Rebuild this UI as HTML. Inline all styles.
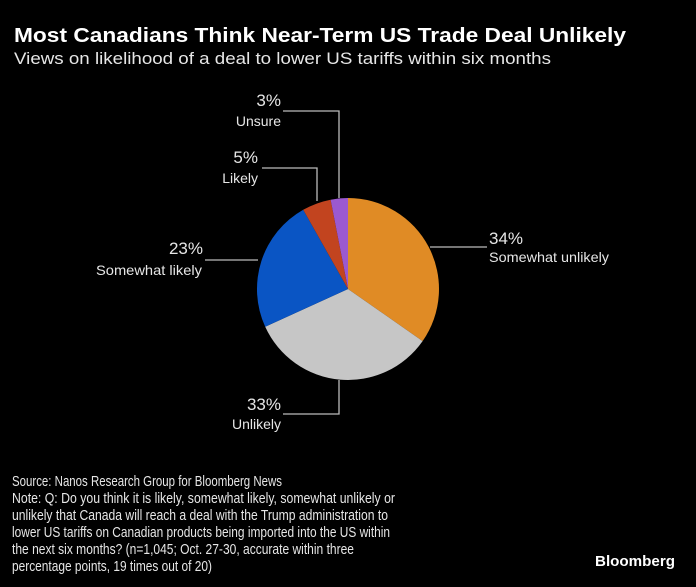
<!DOCTYPE html>
<html><head><meta charset="utf-8"><style>
html,body{margin:0;padding:0;background:#000;}
svg{display:block;}
text{font-family:"Liberation Sans",sans-serif;fill:#e6e6e6;}
</style></head><body>
<svg width="696" height="587" viewBox="0 0 696 587" xmlns="http://www.w3.org/2000/svg">
<rect width="696" height="587" fill="#000"/>
<text x="14" y="42" font-size="20" font-weight="bold" fill="#fff" textLength="612" lengthAdjust="spacingAndGlyphs" style="fill:#fff">Most Canadians Think Near-Term US Trade Deal Unlikely</text>
<text x="14" y="64" font-size="17" textLength="537" lengthAdjust="spacingAndGlyphs">Views on likelihood of a deal to lower US tariffs within six months</text>
<g transform="translate(348,289)">
<path d="M0,0 L0,-91 A91,91 0 0,1 74.6,52.1 Z" fill="#e08b25"/>
<path d="M0,0 L74.6,52.1 A91,91 0 0,1 -82.8,37.8 Z" fill="#c6c6c6"/>
<path d="M0,0 L-82.8,37.8 A91,91 0 0,1 -44.8,-79.2 Z" fill="#0a55c4"/>
<path d="M0,0 L-44.8,-79.2 A91,91 0 0,1 -17.4,-89.3 Z" fill="#c2441f"/>
<path d="M0,0 L-17.4,-89.3 A91,91 0 0,1 0,-91 Z" fill="#9b59d0"/>
</g>
<g stroke="#bbb" stroke-width="1.3" fill="none">
<polyline points="430,247 487,247"/>
<polyline points="339,198 339,111 283,111"/>
<polyline points="317,201 317,168 262,168"/>
<polyline points="339,380 339,414 283,414"/>
<polyline points="258,260 205,260"/>
</g>
<g font-size="17">
<text x="489" y="244">34%</text>
<text x="281" y="106" text-anchor="end">3%</text>
<text x="258" y="163" text-anchor="end">5%</text>
<text x="203" y="254" text-anchor="end">23%</text>
<text x="281" y="410" text-anchor="end">33%</text>
</g>
<g font-size="14">
<text x="489" y="262" textLength="120" lengthAdjust="spacingAndGlyphs">Somewhat unlikely</text>
<text x="281" y="126" text-anchor="end">Unsure</text>
<text x="258" y="183" text-anchor="end">Likely</text>
<text x="202" y="275" text-anchor="end" textLength="106" lengthAdjust="spacingAndGlyphs">Somewhat likely</text>
<text x="281" y="429" text-anchor="end">Unlikely</text>
</g>
<g font-size="14.5">
<text x="12" y="486" textLength="270" lengthAdjust="spacingAndGlyphs">Source: Nanos Research Group for Bloomberg News</text>
<text x="12" y="503" textLength="383" lengthAdjust="spacingAndGlyphs">Note: Q: Do you think it is likely, somewhat likely, somewhat unlikely or</text>
<text x="12" y="520" textLength="376" lengthAdjust="spacingAndGlyphs">unlikely that Canada will reach a deal with the Trump administration to</text>
<text x="12" y="537" textLength="378" lengthAdjust="spacingAndGlyphs">lower US tariffs on Canadian products being imported into the US within</text>
<text x="12" y="554" textLength="342" lengthAdjust="spacingAndGlyphs">the next six months? (n=1,045; Oct. 27-30, accurate within three</text>
<text x="12" y="571" textLength="200" lengthAdjust="spacingAndGlyphs">percentage points, 19 times out of 20)</text>
</g>
<text x="595" y="566" font-size="15" font-weight="bold" textLength="80" lengthAdjust="spacingAndGlyphs" style="fill:#fff">Bloomberg</text>
</svg>
</body></html>
